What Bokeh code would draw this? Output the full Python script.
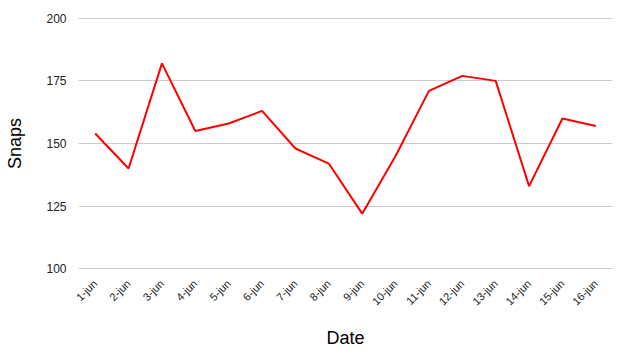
from bokeh.plotting import figure
from bokeh.models import Range1d, FactorRange, FixedTicker
from bokeh.embed import file_html
from bokeh.resources import INLINE
import math

dates = ["1-jun", "2-jun", "3-jun", "4-jun", "5-jun", "6-jun", "7-jun", "8-jun",
         "9-jun", "10-jun", "11-jun", "12-jun", "13-jun", "14-jun", "15-jun", "16-jun"]
snaps = [154, 140, 182, 155, 158, 163, 148, 142, 122, 145, 171, 177, 175, 133, 160, 157]
y_ticks = [100, 125, 150, 175, 200]
x_title = "Date"
y_title = "Snaps"

p = figure(width=626, height=350, x_range=FactorRange(*dates, range_padding=0),
           y_range=Range1d(99.7, 200.3), output_backend="svg", toolbar_location=None,
           min_border_left=78, min_border_right=14, min_border_top=17, min_border_bottom=81)
p.outline_line_color = None
p.background_fill_color = "white"

p.line(dates, snaps, line_color="#ff0000", line_width=2)

FONT = "Liberation Sans"
p.yaxis.ticker = FixedTicker(ticks=y_ticks)
p.yaxis.axis_line_color = None
p.yaxis.major_tick_line_color = None
p.yaxis.minor_tick_line_color = None
p.yaxis.major_label_text_font = FONT
p.yaxis.major_label_text_font_size = "12px"
p.yaxis.major_label_text_color = "#222222"
p.yaxis.major_label_standoff = 6
p.yaxis.axis_label = y_title
p.yaxis.axis_label_text_font = FONT
p.yaxis.axis_label_text_font_size = "18px"
p.yaxis.axis_label_text_font_style = "normal"
p.yaxis.axis_label_text_color = "#000000"
p.yaxis.axis_label_standoff = 18

p.xaxis.axis_line_color = None
p.xaxis.major_tick_line_color = None
p.xaxis.minor_tick_line_color = None
p.xaxis.major_label_orientation = math.pi / 4
p.xaxis.major_label_text_font = FONT
p.xaxis.major_label_text_font_size = "11px"
p.xaxis.major_label_text_color = "#222222"
p.xaxis.major_label_standoff = 6
p.xaxis.axis_label = x_title
p.xaxis.axis_label_text_font = FONT
p.xaxis.axis_label_text_font_size = "18px"
p.xaxis.axis_label_text_font_style = "normal"
p.xaxis.axis_label_text_color = "#000000"
p.xaxis.axis_label_standoff = 13

p.xgrid.grid_line_color = None
p.ygrid.grid_line_color = "#cccccc"
p.ygrid.grid_line_width = 1

open("out.html", "w").write(file_html(p, INLINE))
